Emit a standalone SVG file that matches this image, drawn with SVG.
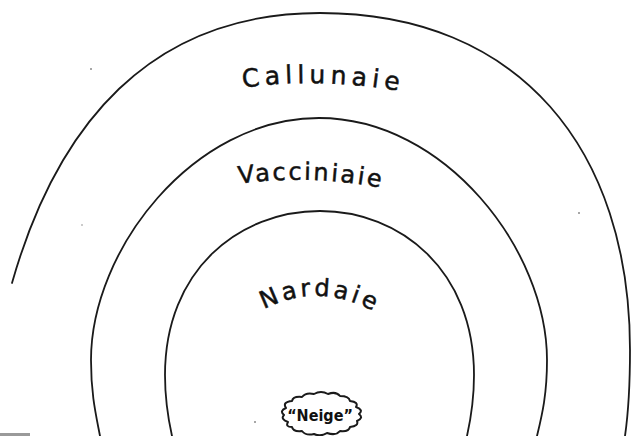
<svg xmlns="http://www.w3.org/2000/svg" width="631" height="436" viewBox="0 0 631 436">
  <style>
    .arch { fill: none; stroke: #1a1a1a; stroke-width: 1.8; stroke-linecap: round; }
    .zone { font-family: "DejaVu Sans", "Liberation Sans", sans-serif; fill: #111; stroke: #111; stroke-width: 0.5; }
    .speck { fill: #8a8a8a; }
  </style>
  <defs>
    <path id="p-call" d="M 236,89 Q 320,75 416,94"/>
    <path id="p-vacc" d="M 232,185 Q 313,172 396,191"/>
    <path id="p-nard" d="M 256,314 Q 318,276 386,318"/>
  </defs>
  <rect width="631" height="436" fill="#ffffff"/>

  <g id="arches">
    <g id="arch-outer">
      <path class="arch" d="M 12,283 C 57,125 150,13 320,13 C 520,13 630,150 630,350 C 630,390 628,415 625,436"/>
    </g>
    <g id="arch-middle">
      <path class="arch" d="M 100,436 C 96,415 91,395 91,360 C 91,250 193,118 319,118 C 445,118 547,250 547,360 C 547,395 542,415 537,436"/>
    </g>
    <g id="arch-inner">
      <path class="arch" d="M 172,436 C 168,418 165,400 165,375 C 165,270 239,211 320,211 C 400,211 474,270 474,375 C 474,400 471,418 467,436"/>
    </g>
  </g>

  <g id="label-callunaie">
    <text class="zone" font-size="25" letter-spacing="5"><textPath href="#p-call" startOffset="7">Callunaie</textPath></text>
  </g>
  <g id="label-vacciniaie">
    <text class="zone" font-size="24" letter-spacing="2.4"><textPath href="#p-vacc" startOffset="7">Vacciniaie</textPath></text>
  </g>
  <g id="label-nardaie">
    <text class="zone" font-size="24" letter-spacing="3.4"><textPath href="#p-nard" startOffset="9">Nardaie</textPath></text>
  </g>

  <g id="neige">
    <path fill="none" stroke="#1a1a1a" stroke-width="2" stroke-linejoin="round"
      d="M 359,414 Q 364,418 357,421 Q 359,426 350,427 Q 349,432 340,431 Q 336,436 327,433 Q 321,437 314,434 Q 306,436 302,431 Q 293,432 292,427 Q 285,427 288,422 Q 280,419 284,415 Q 279,411 286,408 Q 282,402 292,401 Q 293,396 302,397 Q 306,392 314,394 Q 321,390 328,394 Q 336,391 340,396 Q 349,396 350,401 Q 359,402 356,407 Q 364,410 359,414 Z"/>
    <text x="320" y="421" text-anchor="middle" font-family="DejaVu Sans Condensed, Liberation Sans Narrow, sans-serif" font-stretch="condensed" font-weight="bold" font-size="16" fill="#111">“Neige”</text>
  </g>

  <g id="specks">
    <circle class="speck" cx="91" cy="69" r="1"/>
    <circle class="speck" cx="579" cy="213" r="1"/>
    <circle class="speck" cx="255" cy="422" r="1"/>
    <circle class="speck" cx="82" cy="225" r="0.8"/>
    <rect x="0" y="433" width="30" height="3" fill="#9a9a9a"/>
  </g>
</svg>
